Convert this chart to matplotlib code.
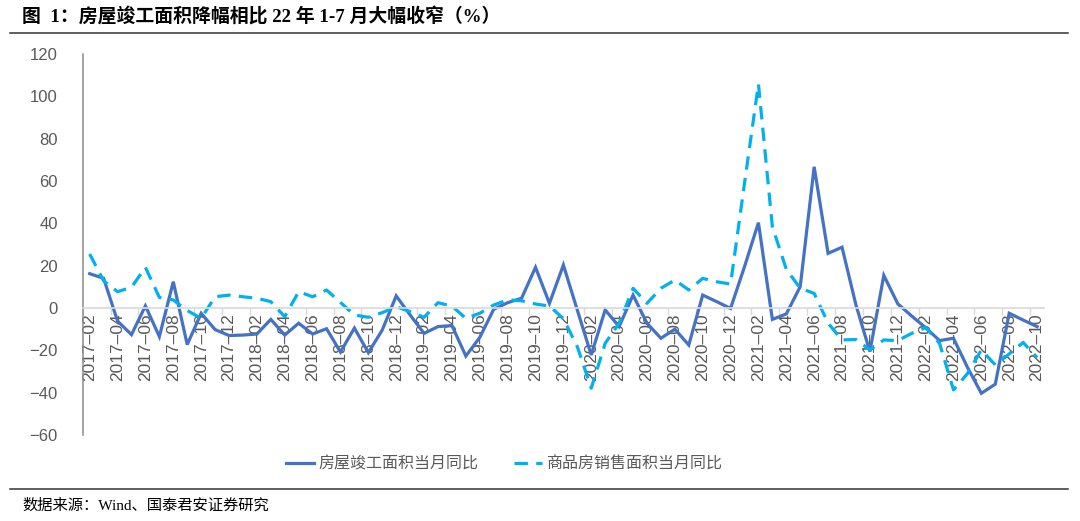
import matplotlib

matplotlib.use("Agg")
import matplotlib.pyplot as plt
import numpy as np
import pandas as pd
from matplotlib.lines import Line2D

plt.rcParams["font.family"] = ["Liberation Sans", "Noto Sans CJK SC"]

months = pd.date_range("2017-02-01", "2022-10-01", freq="MS").strftime("%Y–%m").tolist()

completed_yoy = [
    16.2, 14.0, -6.2, -12.6, 1.0, -13.5, 12.4, -17.3, -2.5, -10.2,
    -13.0, -12.8, -12.3, -5.4, -12.8, -7.2, -12.3, -9.8, -20.8, -9.5,
    -21.1, -10.4, 5.7, -3.3, -12.0, -8.8, -8.3, -22.7, -13.9, -0.6,
    2.5, 4.6, 19.2, 2.2, 20.3, -1.0, -22.2, -0.9, -8.8, 6.1,
    -7.2, -14.3, -10.0, -17.5, 6.1, 3.0, -0.2, 19.5, 40.3, -5.4,
    -2.8, 10.1, 66.7, 25.8, 28.7, 1.4, -20.6, 15.4, 2.0, -3.8,
    -9.3, -15.4, -14.3, -28.0, -40.3, -36.0, -2.5, -5.7, -8.8,
]
sales_yoy = [
    25.5, 12.8, 7.7, 9.8, 19.2, 5.0, 3.8, -1.2, -4.9, 5.3,
    6.1, 5.3, 4.6, 3.0, -4.1, 7.7, 5.3, 8.5, 2.6, -3.3,
    -4.4, -2.2, 0.6, -1.7, -4.4, 2.5, 0.9, -4.9, -2.5, 1.4,
    3.8, 3.4, 1.9, 0.9, -5.0, -18.3, -37.9, -16.7, -7.2, 9.3,
    2.2, 9.3, 13.2, 8.5, 14.0, 12.4, 11.3, 58.9, 105.8, 38.4,
    18.3, 9.3, 6.9, -7.2, -15.1, -14.9, -19.8, -15.1, -15.4, -12.0,
    -9.2, -16.7, -38.7, -31.0, -19.8, -26.9, -21.7, -16.3, -23.4,
]
series_names = ["房屋竣工面积当月同比", "商品房销售面积当月同比"]
title = "图  1：房屋竣工面积降幅相比 22 年 1-7 月大幅收窄（%）"
source = "数据来源：Wind、国泰君安证券研究"

text_grey = "#595959"
x = np.arange(len(months))

fig = plt.figure(figsize=(10.8, 5.21), dpi=100)
ax = fig.add_axes([0.0766, 0.1651, 0.8901, 0.7313])

ax.plot(x, completed_yoy, color="#4472C4", linewidth=2.3, solid_joinstyle="miter")
ax.plot(x, sales_yoy, color="#00B0F0", linewidth=2.3, linestyle=(0, (4.2, 2.6)))

ax.set_xlim(-0.5, len(months) - 0.5)
ax.set_ylim(-60, 120)
ax.set_yticks(np.arange(-60, 121, 20))

ax.spines["top"].set_visible(False)
ax.spines["right"].set_visible(False)
ax.spines["left"].set_color("#8c8c8c")
ax.spines["left"].set_linewidth(1.1)
ax.spines["bottom"].set_position(("data", 0))
ax.spines["bottom"].set_color("#d9d9d9")
ax.spines["bottom"].set_linewidth(1.2)

ax.set_xticks(x[::2])
ax.set_xticklabels(months[::2], rotation=90)
ax.set_xticks(np.arange(-0.5, len(months), 2), minor=True)
ax.tick_params(axis="x", which="major", length=0, pad=4, labelsize=12.5, labelcolor=text_grey)
ax.tick_params(axis="x", which="minor", length=5, width=1.0, color="#d9d9d9")
ax.tick_params(axis="y", length=0, pad=18, labelsize=12, labelcolor=text_grey)

handles = [
    Line2D([], [], color="#4472C4", linewidth=2.3),
    Line2D([], [], color="#00B0F0", linewidth=2.3, linestyle=(0, (4.2, 2.6))),
]
leg = fig.legend(
    handles, series_names, loc="center", bbox_to_anchor=(504 / 1080, 1 - 464 / 521),
    ncol=2, frameon=False, handlelength=1.75, handletextpad=0.3, columnspacing=2.2,
    prop={"family": ["Noto Sans CJK SC"], "size": 11.5},
)
for t in leg.get_texts():
    t.set_color(text_grey)

fig.text(22 / 1080, 1 - 17 / 521, title, ha="left", va="center", fontsize=13.6,
         fontweight="bold", family=["Liberation Serif", "Noto Sans CJK SC"])
fig.text(22 / 1080, 1 - 506 / 521, source, ha="left", va="center", fontsize=11,
         family=["Liberation Serif", "Noto Sans CJK SC"])

fig.add_artist(Line2D([10 / 1080, 1068 / 1080], [1 - 33 / 521] * 2, color="#333333", linewidth=1.1))
fig.add_artist(Line2D([10 / 1080, 1068 / 1080], [1 - 489 / 521] * 2, color="#333333", linewidth=1.1))

fig.savefig("out.png", dpi=100)
plt.close(fig)
